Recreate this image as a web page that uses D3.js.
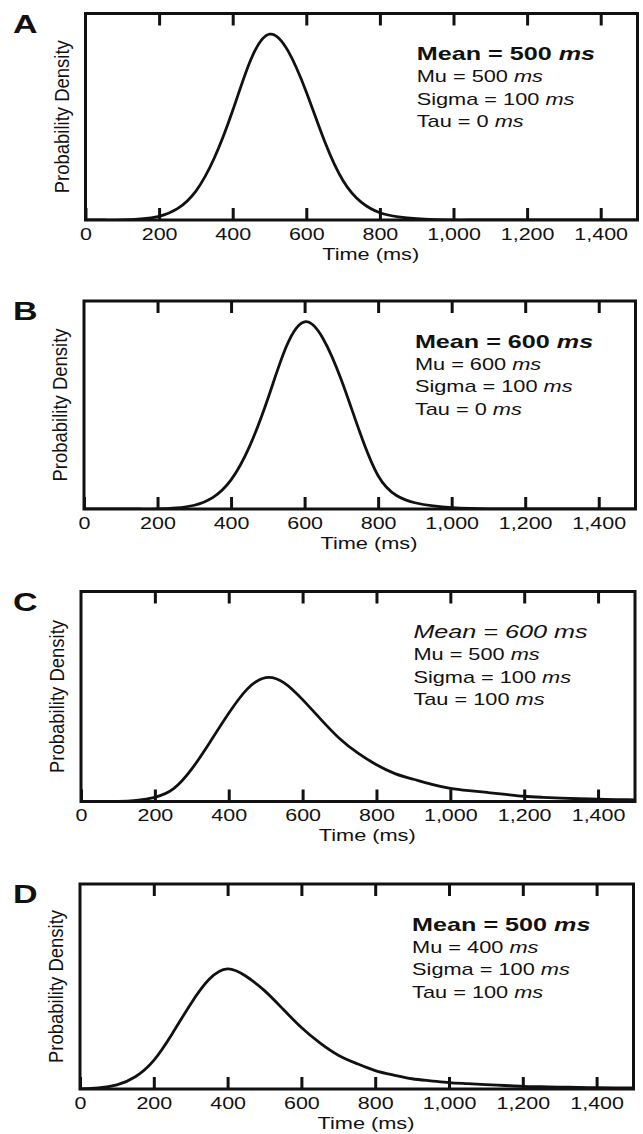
<!DOCTYPE html>
<html>
<head>
<meta charset="utf-8">
<script src="https://cdn.jsdelivr.net/npm/d3@7/dist/d3.min.js"></script>
<style>
    body { margin: 0; background: #fff; }
    svg { display: block; font-family: "Liberation Sans", Arial, sans-serif; }
</style>
</head>
<body>
<svg id="chart" width="643" height="1134"></svg>
<script>
// values (density in % of panel height)
var panelLetters = ["A", "B", "C", "D"];
var meanVals  = [500, 600, 600, 500];
var muVals    = [500, 600, 500, 400];
var sigmaVals = [100, 100, 100, 100];
var tauVals   = [0, 0, 100, 100];

var tickVals = [0, 200, 400, 600, 800, 1000, 1200, 1400];
var topTickVals = [200, 400, 600, 800, 1000, 1200, 1400];

var times = [0, 50, 100, 150, 200, 250, 300, 350, 400, 450, 500, 550, 600, 650, 700, 750,
             800, 850, 900, 950, 1000, 1050, 1100, 1150, 1200, 1250, 1300, 1350, 1400, 1450, 1500];

var densA = [0, 0, 0, 0.5, 1.8, 5.5, 14, 30, 53, 78, 90, 82, 62, 38, 19, 8.5,
             3.5, 1.5, 0.6, 0.2, 0, 0, 0, 0, 0, 0, 0, 0, 0, 0, 0];
var densB = [0, 0, 0, 0, 0, 0.5, 1.8, 5.5, 14, 30, 53, 78, 90, 82, 62, 37,
             16, 6.5, 3, 1.5, 0.7, 0.3, 0.1, 0, 0, 0, 0, 0, 0, 0, 0];
var densC = [0, 0, 0, 0.5, 2, 6, 15.5, 28.5, 42, 53.5, 59, 56.5, 48.5, 39, 30, 23,
             17.5, 13.3, 10.6, 8.2, 6.3, 5.2, 4.3, 3.4, 2.5, 2, 1.6, 1.3, 1.1, 0.9, 0.8];
var densD = [0, 0.5, 2, 6, 14, 27, 41.5, 53.5, 58.6, 55, 48, 39, 30, 22.5, 16.5, 12.4,
             9, 6.8, 5, 4, 3.1, 2.6, 2.1, 1.7, 1.3, 1.1, 0.9, 0.8, 0.6, 0.5, 0.5];
var densities = [densA, densB, densC, densD];

// frame boxes of the panels
var frames = [
    {left: 85.5, right: 637.5, top: 13.5,  bottom: 220},
    {left: 84,   right: 635.5, top: 301,   bottom: 509},
    {left: 81,   right: 635,   top: 591.5, bottom: 801.5},
    {left: 80,   right: 633.5, top: 884,   bottom: 1089}
];

var SX = 1.36;   // the scanned figure is stretched sideways
var ink = "#111";

var svg = d3.select("#chart");

function stretchedText(g, x, y, size){
    return g.append("text")
        .attr("transform", "translate(" + x + "," + y + ") scale(" + SX + ",1)")
        .attr("font-size", size)
        .attr("fill", ink);
}

function drawPanel(i){
    var f = frames[i];
    var g = svg.append("g");

    var x = d3.scaleLinear().domain([0, 1500]).range([f.left, f.right]);
    var y = d3.scaleLinear().domain([0, 100]).range([f.bottom, f.top]);

    g.append("clipPath").attr("id", "clip" + i)
        .append("rect")
        .attr("x", f.left).attr("y", f.top - 20)
        .attr("width", f.right - f.left).attr("height", f.bottom - f.top + 20);

    // curve
    var pts = times.map(function(t, k){ return [t, densities[i][k]]; });
    g.append("path")
        .datum(pts)
        .attr("clip-path", "url(#clip" + i + ")")
        .attr("fill", "none")
        .attr("stroke", ink)
        .attr("stroke-width", 2.8)
        .attr("stroke-linejoin", "round")
        .attr("d", d3.line()
            .x(function(d){ return x(d[0]); })
            .y(function(d){ return y(d[1]); })
            .curve(d3.curveNatural));

    // bottom axis, ticks pointing inside
    var bottomAxis = g.append("g")
        .attr("transform", "translate(0," + f.bottom + ")")
        .call(d3.axisBottom(x).tickValues(tickVals).tickSize(-12).tickPadding(8.5).tickFormat(d3.format(",")));
    bottomAxis.select(".domain").remove();
    bottomAxis.selectAll("line").attr("stroke", ink).attr("stroke-width", 3);
    bottomAxis.selectAll("text")
        .attr("font-size", 15.8)
        .attr("font-family", "Liberation Sans, Arial, sans-serif")
        .attr("fill", ink)
        .attr("transform", "scale(" + SX + ",1)");

    var topAxis = g.append("g")
        .attr("transform", "translate(0," + f.top + ")")
        .call(d3.axisTop(x).tickValues(topTickVals).tickSize(-12).tickFormat(""));
    topAxis.select(".domain").remove();
    topAxis.selectAll("text").remove();
    topAxis.selectAll("line").attr("stroke", ink).attr("stroke-width", 3);

    // frame
    g.append("rect")
        .attr("x", f.left).attr("y", f.top)
        .attr("width", f.right - f.left).attr("height", f.bottom - f.top)
        .attr("fill", "none")
        .attr("stroke", ink)
        .attr("stroke-width", 3);

    // axis titles
    stretchedText(g, x(775), f.bottom + 34 + 5.7, 16)
        .attr("text-anchor", "middle")
        .text("Time (ms)");

    g.append("text")
        .attr("transform", "translate(" + (f.left - 24) + "," + ((f.top + f.bottom) / 2) + ") rotate(-90) scale(1,1.12)")
        .attr("text-anchor", "middle")
        .attr("dominant-baseline", "central")
        .attr("font-size", 18.5)
        .attr("fill", ink)
        .text("Probability Density");

    // panel letter
    stretchedText(g, 13, f.top + 10 + 9, 25)
        .attr("font-weight", "bold")
        .text(panelLetters[i]);

    // parameter block
    var lines = [
        {name: "Mean", v: meanVals[i], size: 18.5, dy: 40},
        {name: "Mu", v: muVals[i], size: 16, dy: 63},
        {name: "Sigma", v: sigmaVals[i], size: 16, dy: 85.5},
        {name: "Tau", v: tauVals[i], size: 16, dy: 108}
    ];
    lines.forEach(function(l, k){
        var t = stretchedText(g, x(900), f.top + l.dy + l.size * 0.358, l.size);
        if(k == 0){
            if(i == 2){
                t.attr("font-style", "italic");
            } else {
                t.attr("font-weight", "bold");
            }
        }
        t.append("tspan").text(l.name + " = " + l.v + " ");
        t.append("tspan").attr("font-style", "italic").text("ms");
    });
}

for (var i = 0; i < 4; i++) {
    drawPanel(i);
}
</script>
</body>
</html>
